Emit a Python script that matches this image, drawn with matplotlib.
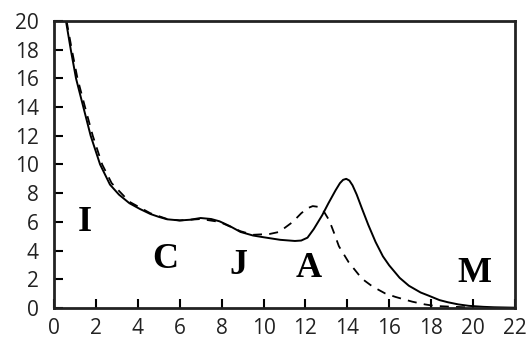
import matplotlib
matplotlib.use("Agg")
import matplotlib.pyplot as plt

# суцільна крива
solid_x = [0.57, 0.8, 1.05, 1.4, 1.75, 2.2, 2.67, 3.1, 3.6, 4.1, 4.6, 5.0, 5.4, 6.0, 6.5,
           7.0, 7.5, 7.9, 8.4, 8.9, 9.5, 10.0, 10.8, 11.5, 11.8, 12.1, 12.4, 12.8, 13.1,
           13.44, 13.65, 13.8, 13.95, 14.1, 14.25, 14.45, 14.7, 15.0, 15.35, 15.7, 16.0,
           16.5, 16.94, 17.5, 17.9, 18.4, 18.8, 19.3, 19.8, 20.5, 21.0, 22.0]
solid_y = [20, 18, 16, 14, 12, 10, 8.6, 7.9, 7.3, 6.9, 6.55, 6.35, 6.18, 6.1, 6.15,
           6.27, 6.2, 6.04, 5.7, 5.3, 5.05, 4.93, 4.75, 4.67, 4.7, 4.9, 5.5, 6.46, 7.3,
           8.2, 8.7, 8.93, 9.0, 8.88, 8.55, 7.9, 6.93, 5.8, 4.6, 3.6, 2.97,
           2.1, 1.55, 1.08, 0.85, 0.55, 0.4, 0.25, 0.15, 0.08, 0.05, 0.02]

# пунктирна крива
dash_x = [0.6, 0.85, 1.12, 1.48, 1.85, 2.3, 2.75, 3.6, 4.6, 5.4, 6.0, 7.0, 7.9, 8.9,
          9.5, 10.3, 10.75, 11.4, 11.8, 12.1, 12.35, 12.6, 12.85, 13.14, 13.35, 13.6,
          14.06, 14.7, 15.2, 15.8, 16.3, 17.1, 17.7, 18.2, 19.1, 20.0]
dash_y = [20, 18, 16, 14, 12, 10, 8.7, 7.4, 6.6, 6.2, 6.1, 6.2, 6.0, 5.35,
          5.1, 5.16, 5.3, 6.0, 6.6, 6.95, 7.1, 7.05, 6.8, 6.1, 5.3, 4.3,
          3.2, 2.04, 1.5, 1.02, 0.77, 0.44, 0.25, 0.14, 0.08, 0.03]

# підписи областей
labels = ["I", "C", "J", "A", "M"]
label_x = [1.48, 5.33, 8.8, 12.14, 20.07]
label_y = [5.96, 3.41, 2.96, 2.72, 2.4]

x_ticks = list(range(0, 23, 2))
y_ticks = list(range(0, 21, 2))

fig = plt.figure(figsize=(5.27, 3.44), dpi=100)
ax = fig.add_axes([0.1025, 0.1047, 0.8745, 0.8343])

ax.plot(solid_x, solid_y, color="black", linewidth=1.4)
ax.plot(dash_x, dash_y, color="black", linewidth=1.3, linestyle=(0, (5, 4)))

for txt, lx, ly in zip(labels, label_x, label_y):
    ax.text(lx, ly, txt, family="Liberation Serif", fontweight="bold",
            fontsize=26, ha="center", va="center")

ax.set_xlim(0, 22)
ax.set_ylim(0, 20)
ax.set_xticks(x_ticks)
ax.set_yticks(y_ticks)
ax.tick_params(direction="in", length=6.5, width=1.5, labelsize=15,
               top=False, right=False)
ax.tick_params(axis="y", pad=11)
ax.tick_params(axis="x", pad=7)
for lab in ax.get_xticklabels() + ax.get_yticklabels():
    lab.set_family("Open Sans")
    lab.set_color("#222222")
for sp in ax.spines.values():
    sp.set_linewidth(2)
    sp.set_color("#222222")

fig.savefig("out.png", dpi=100)
